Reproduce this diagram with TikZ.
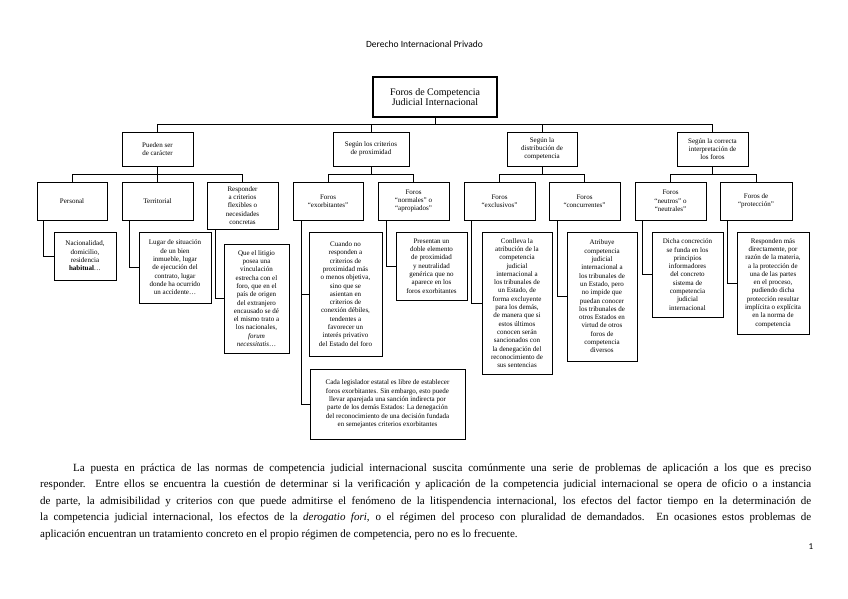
\documentclass[tikz,border=0pt]{standalone}
\usepackage{fontspec}
\setmainfont{Liberation Serif}
\newfontfamily\calib{Carlito}
\begin{document}
\begin{tikzpicture}[x=1pt,y=-1pt,
  bx/.style={draw, line width=0.9pt, align=center, font=\fontsize{7}{8.3}\selectfont, inner sep=1pt, outer sep=0pt},
  ln/.style={line width=0.9pt}]
\fill[white] (0,0) rectangle (848,599);
\useasboundingbox (0,0) rectangle (848,599);

\node[font=\calib\fontsize{9.5}{11}\selectfont] (title) at (424.5,44) {Derecho Internacional Privado};

\node[bx, line width=1.3pt, font=\fontsize{10}{10.5}\selectfont, minimum width=124pt, minimum height=40pt] (root) at (435,97) {Foros de Competencia\\Judicial Internacional};

% level 1
\node[bx, minimum width=71pt, minimum height=34pt] (pue) at (157.5,149) {Pueden ser\\de carácter};
\node[bx, minimum width=76pt, minimum height=34pt] (sc) at (371,149) {Según los criterios\\de proximidad};
\node[bx, minimum width=70pt, minimum height=34pt] (sd) at (542,149) {Según la\\distribución de\\competencia};
\node[bx, minimum width=71pt, minimum height=34pt] (si) at (712.5,149) {Según la correcta\\interpretación de\\los foros};

% level 2
\node[bx, minimum width=70pt, minimum height=38pt] (per) at (72,201) {Personal};
\node[bx, minimum width=71pt, minimum height=38pt] (ter) at (157.5,201) {Territorial};
\node[bx, minimum width=71pt, minimum height=47pt] (resp) at (242.5,205.5) {Responder\\a criterios\\flexibles o\\necesidades\\concretas};
\node[bx, minimum width=70pt, minimum height=38pt] (exo) at (328,201) {Foros\\“exorbitantes”};
\node[bx, minimum width=71pt, minimum height=38pt] (nor) at (413.5,201) {Foros\\“normales” o\\“apropiados”};
\node[bx, minimum width=71pt, minimum height=38pt] (exc) at (499.5,201) {Foros\\“exclusivos”};
\node[bx, minimum width=71pt, minimum height=38pt] (con) at (584.5,201) {Foros\\“concurrentes”};
\node[bx, minimum width=71pt, minimum height=38pt] (neu) at (670.5,201) {Foros\\“neutros” o\\“neutrales”};
\node[bx, minimum width=72pt, minimum height=38pt] (pro) at (756,201) {Foros de\\“protección”};

% level 3
\node[bx, minimum width=62pt, minimum height=48pt] (nac) at (85,256) {Nacionalidad,\\domicilio,\\residencia\\\textbf{habitual}…};
\node[bx, minimum width=72pt, minimum height=71pt] (lug) at (175,267.5) {Lugar de situación\\de un bien\\inmueble, lugar\\de ejecución del\\contrato, lugar\\donde ha ocurrido\\un accidente…};
\node[bx, minimum width=65pt, minimum height=109pt] (que) at (256.5,298.5) {Que el litigio\\posea una\\vinculación\\estrecha con el\\foro, que en el\\país de origen\\del extranjero\\encausado se dé\\el mismo trato a\\los nacionales,\\\textit{forum}\\\textit{necessitatis}…};
\node[bx, minimum width=73pt, minimum height=124pt] (cua) at (345.5,294) {Cuando no\\responden a\\criterios de\\proximidad más\\o menos objetiva,\\sino que se\\asientan en\\criterios de\\conexión débiles,\\tendentes a\\favorecer un\\interés privativo\\del Estado del foro};
\node[bx, minimum width=155pt, minimum height=70pt] (cada) at (387.5,404) {Cada legislador estatal es libre de establecer\\foros exorbitantes. Sin embargo, esto puede\\llevar aparejada una sanción indirecta por\\parte de los demás Estados: La denegación\\del reconocimiento de una decisión fundada\\en semejantes criterios exorbitantes};
\node[bx, minimum width=71pt, minimum height=68pt] (pre) at (431.5,266) {Presentan un\\doble elemento\\de proximidad\\y neutralidad\\genérica que no\\aparece en los\\foros exorbitantes};
\node[bx, minimum width=70pt, minimum height=142pt] (conl) at (517,303) {Conlleva la\\atribución de la\\competencia\\judicial\\internacional a\\los tribunales de\\un Estado, de\\forma excluyente\\para los demás,\\de manera que si\\estos últimos\\conocen serán\\sancionados con\\la denegación del\\reconocimiento de\\sus sentencias};
\node[bx, minimum width=70pt, minimum height=129pt] (atr) at (602,296.5) {Atribuye\\competencia\\judicial\\internacional a\\los tribunales de\\un Estado, pero\\no impide que\\puedan conocer\\los tribunales de\\otros Estados en\\virtud de otros\\foros de\\competencia\\diversos};
\node[bx, minimum width=71pt, minimum height=85pt] (dic) at (687.5,274.5) {Dicha concreción\\se funda en los\\principios\\informadores\\del concreto\\sistema de\\competencia\\judicial\\internacional};
\node[bx, minimum width=72pt, minimum height=102pt] (res) at (773,283) {Responden más\\directamente, por\\razón de la materia,\\a la protección de\\una de las partes\\en el proceso,\\pudiendo dicha\\protección resultar\\implícita o explícita\\en la norma de\\competencia};

% connectors
\coordinate (busA) at (0,124.5);
\coordinate (busB) at (0,174.5);
\draw[ln] (root.south) -- (root.south |- busA);
\draw[ln] (pue.north) -- (pue.north |- busA) -- (si.north |- busA) -- (si.north);
\draw[ln] (sc.north) -- (sc.north |- busA);
\draw[ln] (sd.north) -- (sd.north |- busA);

\draw[ln] (pue.south) -- (pue.south |- busB);
\draw[ln] (per.north) -- (per.north |- busB) -- (resp.north |- busB) -- (resp.north);
\draw[ln] (ter.north) -- (ter.north |- busB);
\draw[ln] (sc.south) -- (sc.south |- busB);
\draw[ln] (exo.north) -- (exo.north |- busB) -- (nor.north |- busB) -- (nor.north);
\draw[ln] (sd.south) -- (sd.south |- busB);
\draw[ln] (exc.north) -- (exc.north |- busB) -- (con.north |- busB) -- (con.north);
\draw[ln] (si.south) -- (si.south |- busB);
\draw[ln] (neu.north) -- (neu.north |- busB) -- (pro.north |- busB) -- (pro.north);

\draw[ln] ([xshift=6pt]per.south west) |- (nac.west);
\draw[ln] ([xshift=7pt]ter.south west) |- (lug.west);
\draw[ln] ([xshift=8pt]resp.south west) |- (que.west);
\draw[ln] ([xshift=8pt]exo.south west) |- (cua.west);
\draw[ln] ([xshift=8pt]exo.south west) |- (cada.west);
\draw[ln] ([xshift=8pt]nor.south west) |- (pre.west);
\draw[ln] ([xshift=7pt]exc.south west) |- (conl.west);
\draw[ln] ([xshift=8pt]con.south west) |- (atr.west);
\draw[ln] ([xshift=7pt]neu.south west) |- (dic.west);
\draw[ln] ([xshift=7pt]pro.south west) |- (res.west);

% paragraph
\node[anchor=base west, text width=771pt, align=justify, inner sep=0pt, font=\fontsize{11}{16.6}\selectfont] (par) at (40,471) {\hspace*{33pt}La puesta en práctica de las normas de competencia judicial internacional suscita comúnmente una serie de problemas de aplicación a los que es preciso\linebreak responder. Entre ellos se encuentra la cuestión de determinar si la verificación y aplicación de la competencia judicial internacional se opera de oficio o a instancia\linebreak de parte, la admisibilidad y criterios con que puede admitirse el fenómeno de la litispendencia internacional, los efectos del factor tiempo en la determinación de\linebreak la competencia judicial internacional, los efectos de la \textit{derogatio fori}, o el régimen del proceso con pluralidad de demandados. En ocasiones estos problemas de\linebreak aplicación encuentran un tratamiento concreto en el propio régimen de competencia, pero no es lo frecuente.};

\node[font=\calib\fontsize{9}{10}\selectfont] (pg) at (811,547) {1};
\end{tikzpicture}
\end{document}
